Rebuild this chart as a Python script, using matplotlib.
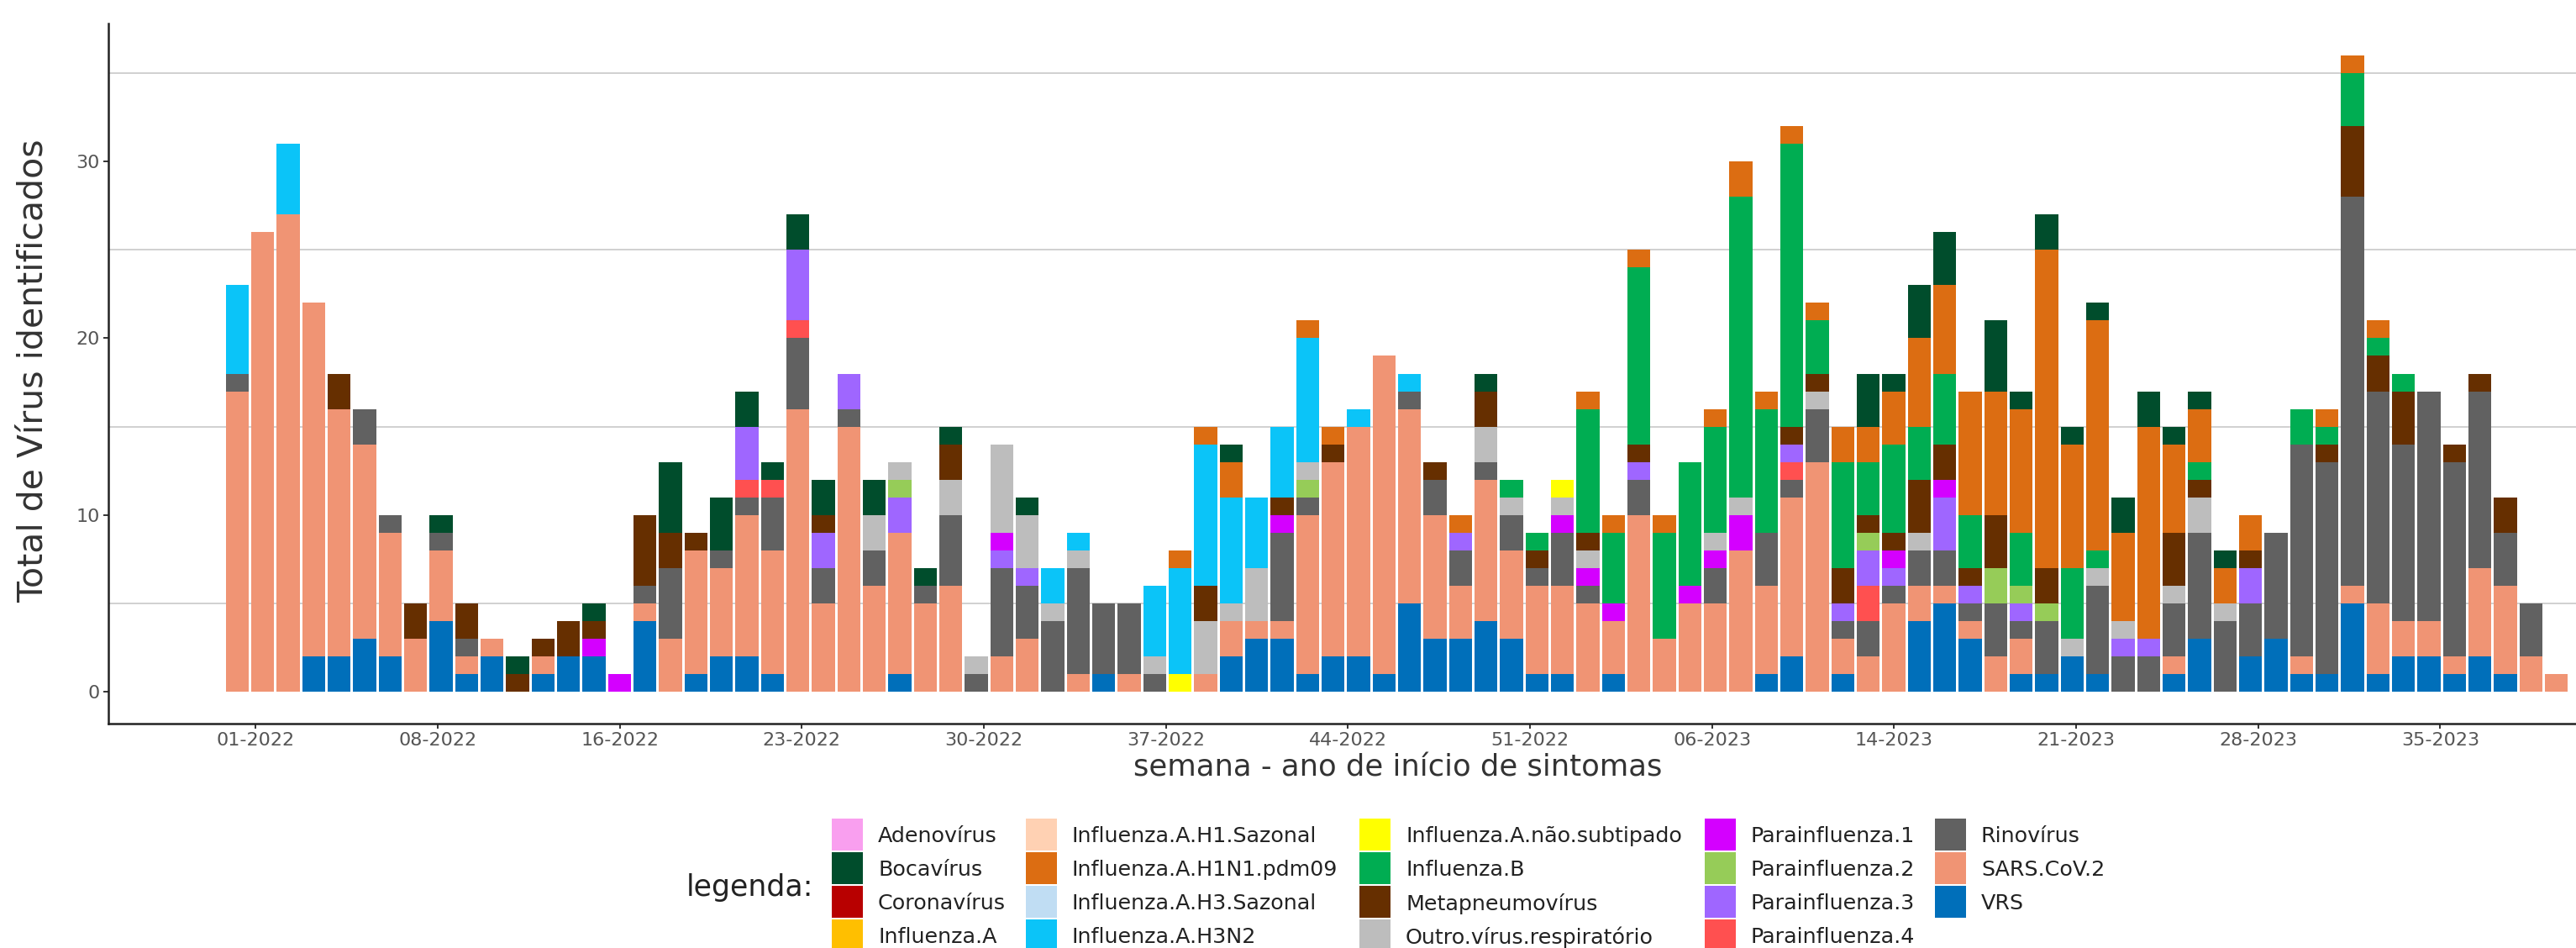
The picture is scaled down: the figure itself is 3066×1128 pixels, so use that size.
import numpy as np
import matplotlib
matplotlib.use("Agg")
import matplotlib.pyplot as plt
from matplotlib.patches import Rectangle

plt.rcParams['font.family'] = ['DejaVu Sans']

# ---------------- data (92 weekly bars) ----------------
VRS = [0, 0, 0, 2, 2, 3, 2, 0, 4, 1,
       2, 0, 1, 2, 2, 0, 4, 0, 1, 2,
       2, 1, 0, 0, 0, 0, 1, 0, 0, 0,
       0, 0, 0, 0, 1, 0, 0, 0, 0, 2,
       3, 3, 1, 2, 2, 1, 5, 3, 3, 4,
       3, 1, 1, 0, 1, 0, 0, 0, 0, 0,
       1, 2, 0, 1, 0, 0, 4, 5, 3, 0,
       1, 1, 2, 1, 0, 0, 1, 3, 0, 2,
       3, 1, 1, 5, 1, 2, 2, 1, 2, 1,
       0, 0]
SARS_COV2 = [17, 26, 27, 20, 14, 11, 7, 3, 4, 1,
             1, 0, 1, 0, 0, 0, 1, 3, 7, 5,
             8, 7, 16, 5, 15, 6, 8, 5, 6, 0,
             2, 3, 0, 1, 0, 1, 0, 0, 1, 2,
             1, 1, 9, 11, 13, 18, 11, 7, 3, 8,
             5, 5, 5, 5, 3, 10, 3, 5, 5, 8,
             5, 9, 13, 2, 2, 5, 2, 1, 1, 2,
             2, 0, 0, 0, 0, 0, 1, 0, 0, 0,
             0, 1, 0, 1, 4, 2, 2, 1, 5, 5,
             2, 1]
RINOVIRUS = [1, 0, 0, 0, 0, 2, 1, 0, 1, 1,
             0, 0, 0, 0, 0, 0, 1, 4, 0, 1,
             1, 3, 4, 2, 1, 2, 0, 1, 4, 1,
             5, 3, 4, 6, 4, 4, 1, 0, 0, 0,
             0, 5, 1, 0, 0, 0, 1, 2, 2, 1,
             2, 1, 3, 1, 0, 2, 0, 0, 2, 0,
             3, 1, 3, 1, 2, 1, 2, 2, 1, 3,
             1, 3, 0, 5, 2, 2, 3, 6, 4, 3,
             6, 12, 12, 22, 12, 10, 13, 11, 10, 3,
             3, 0]
PARA4 = [0, 0, 0, 0, 0, 0, 0, 0, 0, 0,
         0, 0, 0, 0, 0, 0, 0, 0, 0, 0,
         1, 1, 1, 0, 0, 0, 0, 0, 0, 0,
         0, 0, 0, 0, 0, 0, 0, 0, 0, 0,
         0, 0, 0, 0, 0, 0, 0, 0, 0, 0,
         0, 0, 0, 0, 0, 0, 0, 0, 0, 0,
         0, 1, 0, 0, 2, 0, 0, 0, 0, 0,
         0, 0, 0, 0, 0, 0, 0, 0, 0, 0,
         0, 0, 0, 0, 0, 0, 0, 0, 0, 0,
         0, 0]
PARA3 = [0, 0, 0, 0, 0, 0, 0, 0, 0, 0,
         0, 0, 0, 0, 0, 0, 0, 0, 0, 0,
         3, 0, 4, 2, 2, 0, 2, 0, 0, 0,
         1, 1, 0, 0, 0, 0, 0, 0, 0, 0,
         0, 0, 0, 0, 0, 0, 0, 0, 1, 0,
         0, 0, 0, 0, 0, 1, 0, 0, 0, 0,
         0, 1, 0, 1, 2, 1, 0, 3, 1, 0,
         1, 0, 0, 0, 1, 1, 0, 0, 0, 2,
         0, 0, 0, 0, 0, 0, 0, 0, 0, 0,
         0, 0]
PARA2 = [0, 0, 0, 0, 0, 0, 0, 0, 0, 0,
         0, 0, 0, 0, 0, 0, 0, 0, 0, 0,
         0, 0, 0, 0, 0, 0, 1, 0, 0, 0,
         0, 0, 0, 0, 0, 0, 0, 0, 0, 0,
         0, 0, 1, 0, 0, 0, 0, 0, 0, 0,
         0, 0, 0, 0, 0, 0, 0, 0, 0, 0,
         0, 0, 0, 0, 1, 0, 0, 0, 0, 2,
         1, 1, 0, 0, 0, 0, 0, 0, 0, 0,
         0, 0, 0, 0, 0, 0, 0, 0, 0, 0,
         0, 0]
PARA1 = [0, 0, 0, 0, 0, 0, 0, 0, 0, 0,
         0, 0, 0, 0, 1, 1, 0, 0, 0, 0,
         0, 0, 0, 0, 0, 0, 0, 0, 0, 0,
         1, 0, 0, 0, 0, 0, 0, 0, 0, 0,
         0, 1, 0, 0, 0, 0, 0, 0, 0, 0,
         0, 0, 1, 1, 1, 0, 0, 1, 1, 2,
         0, 0, 0, 0, 0, 1, 0, 1, 0, 0,
         0, 0, 0, 0, 0, 0, 0, 0, 0, 0,
         0, 0, 0, 0, 0, 0, 0, 0, 0, 0,
         0, 0]
OUTRO = [0, 0, 0, 0, 0, 0, 0, 0, 0, 0,
         0, 0, 0, 0, 0, 0, 0, 0, 0, 0,
         0, 0, 0, 0, 0, 2, 1, 0, 2, 1,
         5, 3, 1, 1, 0, 0, 1, 0, 3, 1,
         3, 0, 1, 0, 0, 0, 0, 0, 0, 2,
         1, 0, 1, 1, 0, 0, 0, 0, 1, 1,
         0, 0, 1, 0, 0, 0, 1, 0, 0, 0,
         0, 0, 1, 1, 1, 0, 1, 2, 1, 0,
         0, 0, 0, 0, 0, 0, 0, 0, 0, 0,
         0, 0]
METAPNEUMO = [0, 0, 0, 0, 2, 0, 0, 2, 0, 2,
              0, 1, 1, 2, 1, 0, 4, 2, 1, 0,
              0, 0, 0, 1, 0, 0, 0, 0, 2, 0,
              0, 0, 0, 0, 0, 0, 0, 0, 2, 0,
              0, 1, 0, 1, 0, 0, 0, 1, 0, 2,
              0, 1, 0, 1, 0, 1, 0, 0, 0, 0,
              0, 1, 1, 2, 1, 1, 3, 2, 1, 3,
              0, 2, 0, 0, 0, 0, 3, 1, 0, 1,
              0, 0, 1, 4, 2, 3, 0, 1, 1, 2,
              0, 0]
FLU_B = [0, 0, 0, 0, 0, 0, 0, 0, 0, 0,
         0, 0, 0, 0, 0, 0, 0, 0, 0, 0,
         0, 0, 0, 0, 0, 0, 0, 0, 0, 0,
         0, 0, 0, 0, 0, 0, 0, 0, 0, 0,
         0, 0, 0, 0, 0, 0, 0, 0, 0, 0,
         1, 1, 0, 7, 4, 10, 6, 7, 6, 17,
         7, 16, 3, 6, 3, 5, 3, 4, 3, 0,
         3, 0, 4, 1, 0, 0, 0, 1, 0, 0,
         0, 2, 1, 3, 1, 1, 0, 0, 0, 0,
         0, 0]
FLU_A_NAO_SUB = [0, 0, 0, 0, 0, 0, 0, 0, 0, 0,
                 0, 0, 0, 0, 0, 0, 0, 0, 0, 0,
                 0, 0, 0, 0, 0, 0, 0, 0, 0, 0,
                 0, 0, 0, 0, 0, 0, 0, 1, 0, 0,
                 0, 0, 0, 0, 0, 0, 0, 0, 0, 0,
                 0, 0, 1, 0, 0, 0, 0, 0, 0, 0,
                 0, 0, 0, 0, 0, 0, 0, 0, 0, 0,
                 0, 0, 0, 0, 0, 0, 0, 0, 0, 0,
                 0, 0, 0, 0, 0, 0, 0, 0, 0, 0,
                 0, 0]
H3N2 = [5, 0, 4, 0, 0, 0, 0, 0, 0, 0,
        0, 0, 0, 0, 0, 0, 0, 0, 0, 0,
        0, 0, 0, 0, 0, 0, 0, 0, 0, 0,
        0, 0, 2, 1, 0, 0, 4, 6, 8, 6,
        4, 4, 7, 0, 1, 0, 1, 0, 0, 0,
        0, 0, 0, 0, 0, 0, 0, 0, 0, 0,
        0, 0, 0, 0, 0, 0, 0, 0, 0, 0,
        0, 0, 0, 0, 0, 0, 0, 0, 0, 0,
        0, 0, 0, 0, 0, 0, 0, 0, 0, 0,
        0, 0]
H1N1_PDM09 = [0, 0, 0, 0, 0, 0, 0, 0, 0, 0,
              0, 0, 0, 0, 0, 0, 0, 0, 0, 0,
              0, 0, 0, 0, 0, 0, 0, 0, 0, 0,
              0, 0, 0, 0, 0, 0, 0, 1, 1, 2,
              0, 0, 1, 1, 0, 0, 0, 0, 1, 0,
              0, 0, 0, 1, 1, 1, 1, 0, 1, 2,
              1, 1, 1, 2, 2, 3, 5, 5, 7, 7,
              7, 18, 7, 13, 5, 12, 5, 3, 2, 2,
              0, 0, 1, 1, 1, 0, 0, 0, 0, 0,
              0, 0]
BOCAVIRUS = [0, 0, 0, 0, 0, 0, 0, 0, 1, 0,
             0, 1, 0, 0, 1, 0, 0, 4, 0, 3,
             2, 1, 2, 2, 0, 2, 0, 1, 1, 0,
             0, 1, 0, 0, 0, 0, 0, 0, 0, 1,
             0, 0, 0, 0, 0, 0, 0, 0, 0, 1,
             0, 0, 0, 0, 0, 0, 0, 0, 0, 0,
             0, 0, 0, 0, 3, 1, 3, 3, 0, 4,
             1, 2, 1, 1, 2, 2, 1, 1, 1, 0,
             0, 0, 0, 0, 0, 0, 0, 0, 0, 0,
             0, 0]
ZERO_SERIES = [0] * 92  # Adenovírus, Coronavírus, Influenza.A, H1.Sazonal, H3.Sazonal: no detections

tick_labels = ["01-2022", "08-2022", "16-2022", "23-2022", "30-2022", "37-2022",
               "44-2022", "51-2022", "06-2023", "14-2023", "21-2023", "28-2023", "35-2023"]

legend_names = ["Adenovírus", "Bocavírus", "Coronavírus", "Influenza.A",
                "Influenza.A.H1.Sazonal", "Influenza.A.H1N1.pdm09", "Influenza.A.H3.Sazonal",
                "Influenza.A.H3N2", "Influenza.A.não.subtipado", "Influenza.B",
                "Metapneumovírus", "Outro.vírus.respiratório", "Parainfluenza.1",
                "Parainfluenza.2", "Parainfluenza.3", "Parainfluenza.4",
                "Rinovírus", "SARS.CoV.2", "VRS"]
colors = {
    "Adenovírus": "#F99FEF", "Bocavírus": "#004D2C", "Coronavírus": "#B80000",
    "Influenza.A": "#FFBF00", "Influenza.A.H1.Sazonal": "#FFD1B3",
    "Influenza.A.H1N1.pdm09": "#DC6D12", "Influenza.A.H3.Sazonal": "#C0DDF3",
    "Influenza.A.H3N2": "#0BC4F8", "Influenza.A.não.subtipado": "#FFFF00",
    "Influenza.B": "#00AD52", "Metapneumovírus": "#662F00",
    "Outro.vírus.respiratório": "#BDBDBD", "Parainfluenza.1": "#D400FF",
    "Parainfluenza.2": "#96CC58", "Parainfluenza.3": "#9F66FF",
    "Parainfluenza.4": "#FF5050", "Rinovírus": "#616161",
    "SARS.CoV.2": "#F09474", "VRS": "#006FBA",
}
series = {
    "VRS": VRS, "SARS.CoV.2": SARS_COV2, "Rinovírus": RINOVIRUS,
    "Parainfluenza.4": PARA4, "Parainfluenza.3": PARA3, "Parainfluenza.2": PARA2,
    "Parainfluenza.1": PARA1, "Outro.vírus.respiratório": OUTRO,
    "Metapneumovírus": METAPNEUMO, "Influenza.B": FLU_B,
    "Influenza.A.não.subtipado": FLU_A_NAO_SUB, "Influenza.A.H3N2": H3N2,
    "Influenza.A.H3.Sazonal": ZERO_SERIES, "Influenza.A.H1N1.pdm09": H1N1_PDM09,
    "Influenza.A.H1.Sazonal": ZERO_SERIES, "Influenza.A": ZERO_SERIES,
    "Coronavírus": ZERO_SERIES, "Bocavírus": BOCAVIRUS, "Adenovírus": ZERO_SERIES,
}

# ---------------- figure ----------------
W, H = 3066, 1128
fig = plt.figure(figsize=(W / 100, H / 100), dpi=100)
ax = fig.add_axes([129 / W, 1 - 861 / H, 3067 / W, 833 / H])

x = np.arange(len(VRS))
bottom = np.zeros(len(x))
for name, vals in series.items():
    v = np.array(vals, dtype=float)
    ax.bar(x, v, width=0.9, bottom=bottom, color=colors[name], linewidth=0, zorder=2)
    bottom += v

ax.set_xlim(-5.05, 96.05)
ax.set_ylim(-1.8, 37.8)

# grid only at the minor positions (5, 15, 25, 35)
ax.set_yticks([0, 10, 20, 30])
ax.set_yticks([5, 15, 25, 35], minor=True)
ax.yaxis.grid(True, which='minor', color='#D0D0D0', linewidth=1.4, zorder=0)
ax.yaxis.grid(False, which='major')
ax.tick_params(axis='y', which='minor', length=0)

tick_pos = 0.725 + np.arange(len(tick_labels)) * 50 / 7
ax.set_xticks(tick_pos)
ax.set_xticklabels(tick_labels)

for s in ['top', 'right']:
    ax.spines[s].set_visible(False)
for s in ['left', 'bottom']:
    ax.spines[s].set_color('#222222')
    ax.spines[s].set_linewidth(1.8)

ax.tick_params(axis='both', which='major', colors='#333333', labelcolor='#555555',
               labelsize=16, length=4.3, width=1.4, pad=3)

fig.text(40 / W, 1 - 441 / H, "Total de Vírus identificados", rotation=90,
         ha='center', va='center', fontsize=29.5, color='#333333')
fig.text(1664 / W, 1 - 913 / H, "semana - ano de início de sintomas",
         ha='center', va='center', fontsize=25.5, color='#333333')

# ---------------- legend (4 rows x 5 columns, filled column-wise) ----------------
key_left = [990, 1221, 1618, 2029, 2303]
key_w, key_h, row_pitch, first_top = 37, 37.5, 40, 974
for i, name in enumerate(legend_names):
    col, row = divmod(i, 4)
    kx = key_left[col]
    ky = first_top + row * row_pitch
    fig.add_artist(Rectangle((kx / W, 1 - (ky + key_h) / H), key_w / W, key_h / H,
                             transform=fig.transFigure, facecolor=colors[name],
                             edgecolor='none'))
    fig.text((kx + 55) / W, 1 - (ky + key_h / 2) / H, name, ha='left',
             va='center_baseline', fontsize=18.3, color='#222222')
fig.text(817 / W, 1 - 1056 / H, "legenda:", ha='left', va='center',
         fontsize=25, color='#222222')

fig.savefig("out.png", dpi=100)
